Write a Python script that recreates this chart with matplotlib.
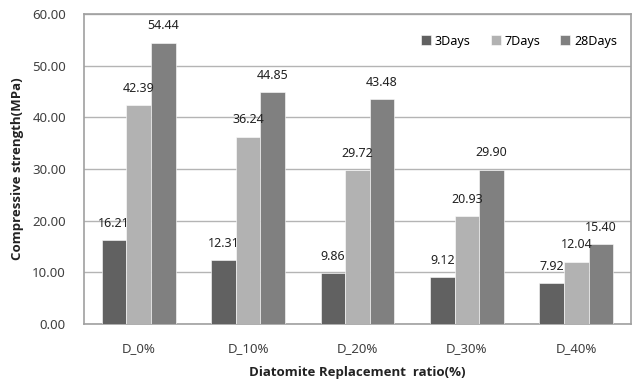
import matplotlib.pyplot as plt
import numpy as np

# Compressive strength by diatomite replacement ratio
categories = ["D_0%", "D_10%", "D_20%", "D_30%", "D_40%"]
series_names = ["3Days", "7Days", "28Days"]
days3 = [16.21, 12.31, 9.86, 9.12, 7.92]
days7 = [42.39, 36.24, 29.72, 20.93, 12.04]
days28 = [54.44, 44.85, 43.48, 29.90, 15.40]

colors = ["#616161", "#b2b2b2", "#808080"]

plt.rcParams["font.family"] = ["Noto Sans", "DejaVu Sans"]

fig = plt.figure(figsize=(6.35, 3.85), dpi=100)
ax = fig.add_axes([84 / 635, 1 - 324 / 385, 547 / 635, 310 / 385])

x = np.arange(len(categories))
width = 0.225
for i, (vals, name) in enumerate(zip([days3, days7, days28], series_names)):
    pos = x + (i - 1) * width
    ax.bar(pos, vals, width, color=colors[i], label=name, zorder=3,
           edgecolor="white", linewidth=0.4)
    for px, v in zip(pos, vals):
        ax.text(px, v + 2.0, f"{v:.2f}", ha="center", va="bottom",
                fontsize=9, color="#222222", zorder=4)

ax.set_xlim(-0.5, len(categories) - 0.5)
ax.set_ylim(0, 60)
ax.set_yticks(np.arange(0, 61, 10))
ax.set_yticklabels([f"{t:.2f}" for t in np.arange(0, 61, 10)])
ax.set_xticks(x)
ax.set_xticklabels(categories)
ax.tick_params(length=0, labelsize=9.5, colors="#404040")
ax.tick_params(axis="y", pad=13)
ax.tick_params(axis="x", pad=13)
ax.grid(axis="y", color="#b4b4b4", linewidth=1, zorder=0)
for side in ax.spines.values():
    side.set_color("#a0a0a0")
    side.set_linewidth(1.2)

ax.set_ylabel("Compressive strength(MPa)", fontsize=9.5, fontweight="bold",
              family="Open Sans", color="#222222", labelpad=6)
ax.set_xlabel("Diatomite Replacement  ratio(%)", fontsize=9.5, fontweight="bold",
              family="Open Sans", color="#222222", labelpad=8)

ax.legend(loc="upper right", bbox_to_anchor=(0.995, 0.97), ncol=3, frameon=False,
          fontsize=9, handlelength=0.8, handleheight=0.8, handletextpad=0.3,
          columnspacing=1.6)

fig.savefig("out.png", dpi=100)
